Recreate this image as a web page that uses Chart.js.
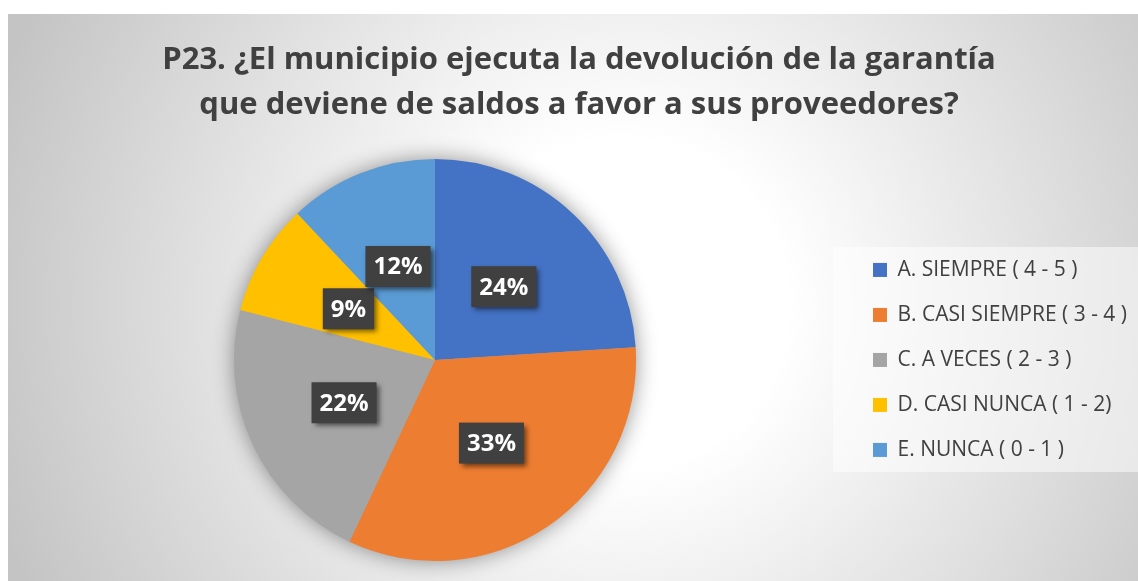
<!DOCTYPE html>
<html>
<head>
<meta charset="utf-8">
<script src="https://cdn.jsdelivr.net/npm/chart.js@4.4.1/dist/chart.umd.min.js"></script>
<style>
  html, body { margin: 0; padding: 0; background: #fff; overflow: hidden; }
  #wrap { position: absolute; left: 8px; top: 14px; width: 1147px; height: 567px; }
</style>
</head>
<body>
<div id="wrap"><canvas id="c"></canvas></div>
<script>
// data
const titleLines = [
  'P23. ¿El municipio ejecuta la devolución de la garantía',
  'que deviene de saldos a favor a sus proveedores?',
];
const categories = [
  'A. SIEMPRE ( 4 - 5 )',
  'B. CASI SIEMPRE ( 3 - 4 )',
  'C. A VECES ( 2 - 3 )',
  'D. CASI NUNCA ( 1 - 2)',
  'E. NUNCA ( 0 - 1 )',
];
const shares = [24, 33, 22, 9, 12];
const colors = ['#4472c4', '#ed7d31', '#a5a5a5', '#ffc000', '#5b9bd5'];

const FONT = "'Open Sans', 'Noto Sans', sans-serif";

// radial backdrop, legend panel and the soft halo behind the pie
const backdrop = {
  id: 'backdrop',
  beforeDraw(chart) {
    const { ctx, width, height, legend } = chart;
    ctx.save();
    const g = ctx.createRadialGradient(615, 290, 0, 615, 290, 660);
    g.addColorStop(0, '#ffffff');
    g.addColorStop(0.25, '#ffffff');
    g.addColorStop(1, '#c4c4c4');
    ctx.fillStyle = g;
    ctx.fillRect(0, 0, width, height);
    if (legend) {
      ctx.fillStyle = 'rgba(255,255,255,0.5)';
      ctx.fillRect(legend.left - 16, 233, width - legend.left + 16, 225);
    }
    ctx.restore();
  },
  beforeDatasetsDraw(chart) {
    const arc = chart.getDatasetMeta(0).data[0];
    if (!arc) return;
    const { ctx } = chart;
    ctx.save();
    ctx.shadowColor = 'rgba(0,0,0,0.45)';
    ctx.shadowBlur = 22;
    ctx.fillStyle = '#a5a5a5';
    ctx.beginPath();
    ctx.arc(arc.x, arc.y, arc.outerRadius - 1, 0, Math.PI * 2);
    ctx.fill();
    ctx.restore();
  },
};

// dark percentage tags at the middle of each slice
const tags = {
  id: 'tags',
  afterDatasetsDraw(chart) {
    const { ctx } = chart;
    const meta = chart.getDatasetMeta(0);
    ctx.save();
    ctx.font = `bold 24px ${FONT}`;
    ctx.textAlign = 'center';
    ctx.textBaseline = 'middle';
    meta.data.forEach((arc, i) => {
      const p = arc.getCenterPoint();
      const txt = shares[i] + '%';
      const w = ctx.measureText(txt).width + 16;
      const h = 41;
      ctx.save();
      ctx.shadowColor = 'rgba(0,0,0,0.55)';
      ctx.shadowBlur = 5;
      ctx.shadowOffsetX = 3;
      ctx.shadowOffsetY = 3;
      ctx.fillStyle = '#404040';
      ctx.fillRect(p.x - w / 2, p.y - h / 2, w, h);
      ctx.restore();
      ctx.fillStyle = '#ffffff';
      ctx.fillText(txt, p.x, p.y + 1);
    });
    ctx.restore();
  },
};

new Chart(document.getElementById('c'), {
  type: 'pie',
  data: {
    labels: categories,
    datasets: [{
      data: shares,
      backgroundColor: colors,
      borderWidth: 0,
    }],
  },
  options: {
    responsive: true,
    maintainAspectRatio: false,
    animation: false,
    layout: { padding: { left: 13, right: 18, top: 0, bottom: 20 } },
    plugins: {
      title: {
        display: true,
        text: titleLines,
        color: '#404040',
        font: { family: FONT, size: 31, weight: 'bold', lineHeight: 1.45 },
        padding: { top: 24, bottom: 31 },
      },
      legend: {
        position: 'right',
        fullSize: false,
        labels: {
          color: '#404040',
          font: { family: FONT, size: 21 },
          boxWidth: 14,
          boxHeight: 14,
          padding: 24,
        },
      },
      tooltip: { enabled: false },
    },
  },
  plugins: [backdrop, tags],
});
</script>
</body>
</html>
